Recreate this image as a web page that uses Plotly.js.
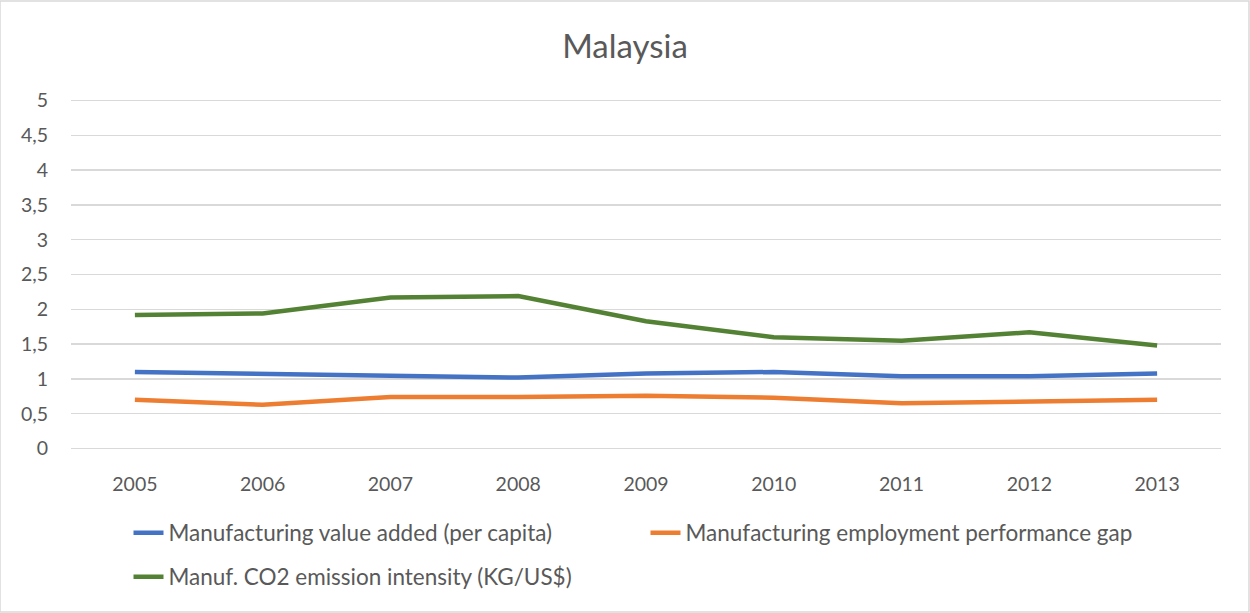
<!DOCTYPE html>
<html>
<head>
<meta charset="utf-8">
<script src="https://cdn.plot.ly/plotly-3.0.1.min.js"></script>
<style>html,body{margin:0;padding:0;background:#fff;}#chart{width:1250px;height:613px;}</style>
</head>
<body>
<div id="chart"></div>
<script>
const years = ["2005","2006","2007","2008","2009","2010","2011","2012","2013"];
const valueAdded = [1.10, 1.07, 1.04, 1.02, 1.08, 1.10, 1.04, 1.04, 1.08];
const employmentGap = [0.70, 0.63, 0.74, 0.74, 0.76, 0.73, 0.65, 0.68, 0.70];
const co2Intensity = [1.92, 1.94, 2.17, 2.19, 1.83, 1.60, 1.55, 1.67, 1.48];
const seriesNames = ["Manufacturing value added (per capita)", "Manufacturing employment performance gap", "Manuf. CO2 emission intensity (KG/US$)"];
const yTickVals = [0, 0.5, 1, 1.5, 2, 2.5, 3, 3.5, 4, 4.5, 5];
const yTickText = ["0", "0,5", "1", "1,5", "2", "2,5", "3", "3,5", "4", "4,5", "5"];

const font = "Lato, 'Open Sans', sans-serif";
const colors = ["#4472C4", "#ED7D31", "#548235"];
const legendIds = ["legend", "legend", "legend2"];
const data = [valueAdded, employmentGap, co2Intensity].map((ys, i) => ({
  x: years, y: ys, type: "scatter", mode: "lines", name: seriesNames[i],
  legend: legendIds[i],
  line: {color: colors[i], width: 4.5}
}));

const legendFont = {size: 22.5, color: "#595959", family: font};
const layout = {
  width: 1250, height: 613,
  margin: {l: 71, r: 29, t: 99, b: 163},
  paper_bgcolor: "#fff", plot_bgcolor: "#fff",
  font: {family: font, color: "#595959", size: 19},
  title: {text: "Malaysia", font: {size: 33, color: "#595959", family: font}, x: 0.5, xanchor: "center", y: 0.925, yanchor: "middle"},
  xaxis: {type: "category", range: [-0.5, 8.5], showgrid: false, zeroline: false, showline: false, ticks: "", ticklabelstandoff: 20, tickfont: {size: 19.5, color: "#595959"}},
  yaxis: {range: [-0.02, 5.02], tickvals: yTickVals, ticktext: yTickText, showgrid: true, gridcolor: "#d9d9d9", gridwidth: 1.3, zeroline: false, showline: false, ticks: "", ticklabelstandoff: 22, tickfont: {size: 19.5, color: "#595959"}},
  showlegend: true,
  legend: {orientation: "h", x: 0.05, xanchor: "left", y: -0.2365, yanchor: "middle", entrywidth: 472, entrywidthmode: "pixels", font: legendFont, traceorder: "normal", bgcolor: "rgba(0,0,0,0)"},
  legend2: {orientation: "h", x: 0.05, xanchor: "left", y: -0.362, yanchor: "middle", font: legendFont, bgcolor: "rgba(0,0,0,0)"},
  shapes: [{type: "rect", xref: "paper", yref: "paper", x0: -71/1150, x1: 1 + 28/1150, y0: -162/351, y1: 1 + 98/351, line: {color: "#d9d9d9", width: 1.5}}]
};

Plotly.newPlot("chart", data, layout, {displayModeBar: false, staticPlot: true});
</script>
</body>
</html>
